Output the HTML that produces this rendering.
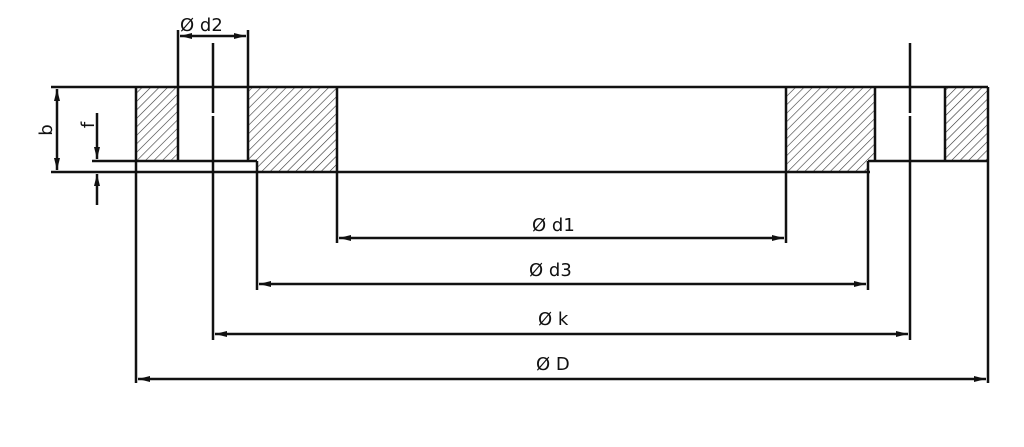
<!DOCTYPE html>
<html><head><meta charset="utf-8"><style>
html,body{margin:0;padding:0;background:#fff;width:1024px;height:447px;overflow:hidden}
svg text{font-family:"DejaVu Sans","Liberation Sans",sans-serif;font-size:18px;fill:#111}
</style></head><body>
<svg width="1024" height="447" viewBox="0 0 1024 447" xmlns="http://www.w3.org/2000/svg">
<defs>
<pattern id="h" patternUnits="userSpaceOnUse" width="6" height="6" patternTransform="rotate(45)">
<line x1="0" y1="0" x2="0" y2="6" stroke="#333" stroke-width="1.2"/>
</pattern>
<marker id="a" viewBox="0 0 12 6" refX="12" refY="3" markerWidth="12" markerHeight="6" markerUnits="userSpaceOnUse" orient="auto-start-reverse">
<path d="M0,0 L12,3 L0,6 z" fill="#111"/>
</marker>
</defs>
<rect x="136" y="87" width="42" height="73" fill="url(#h)"/>
<path d="M248,87 H337 V172 H257 V161 H248 Z" fill="url(#h)"/>
<path d="M786,87 H875 V161 H868 V172 H786 Z" fill="url(#h)"/>
<rect x="945" y="87" width="43" height="73" fill="url(#h)"/>
<g stroke="#111" stroke-width="2.5" fill="none">
<line x1="51" y1="87" x2="988" y2="87"/>
<line x1="51" y1="172" x2="870" y2="172"/>
<line x1="92" y1="161" x2="257" y2="161"/>
<line x1="868" y1="161" x2="988" y2="161"/>
<line x1="136" y1="87" x2="136" y2="383"/>
<line x1="178" y1="30" x2="178" y2="161"/>
<line x1="248" y1="30" x2="248" y2="161"/>
<line x1="257" y1="161" x2="257" y2="290"/>
<line x1="337" y1="87" x2="337" y2="243"/>
<line x1="786" y1="87" x2="786" y2="243"/>
<line x1="875" y1="87" x2="875" y2="161"/>
<line x1="868" y1="161" x2="868" y2="290"/>
<line x1="945" y1="87" x2="945" y2="161"/>
<line x1="988" y1="87" x2="988" y2="383"/>
<line x1="213" y1="43" x2="213" y2="340"/>
<line x1="910" y1="43" x2="910" y2="340"/>
<line x1="180" y1="36" x2="246" y2="36" marker-start="url(#a)" marker-end="url(#a)"/>
<line x1="339" y1="238" x2="784" y2="238" marker-start="url(#a)" marker-end="url(#a)"/>
<line x1="259" y1="284" x2="866" y2="284" marker-start="url(#a)" marker-end="url(#a)"/>
<line x1="215" y1="334" x2="908" y2="334" marker-start="url(#a)" marker-end="url(#a)"/>
<line x1="138" y1="379" x2="986" y2="379" marker-start="url(#a)" marker-end="url(#a)"/>
<line x1="57" y1="89" x2="57" y2="170" marker-start="url(#a)" marker-end="url(#a)"/>
<line x1="97" y1="113" x2="97" y2="159" marker-end="url(#a)"/>
<line x1="97" y1="205" x2="97" y2="174" marker-end="url(#a)"/>
</g>
<g fill="#fff"><rect x="211" y="113" width="4" height="3"/><rect x="908" y="113" width="4" height="3"/></g>
<text x="180" y="31">Ø d2</text>
<text x="532" y="231">Ø d1</text>
<text x="529" y="276">Ø d3</text>
<text x="538" y="325">Ø  k</text>
<text x="536" y="370">Ø  D</text>
<text transform="translate(52,130) rotate(-90)" text-anchor="middle">b</text>
<text transform="translate(94,125) rotate(-90)" text-anchor="middle">f</text>
</svg>
</body></html>
